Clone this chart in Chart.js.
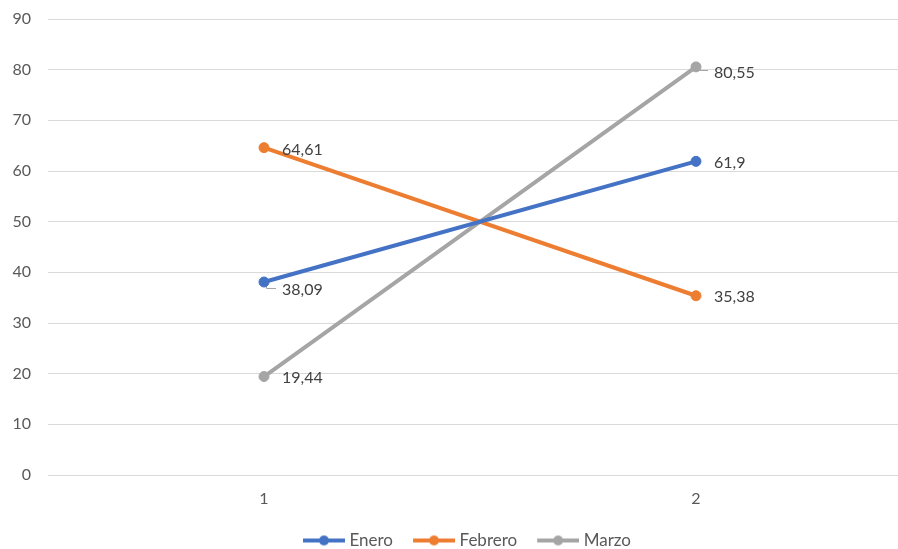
<!DOCTYPE html>
<html>
<head>
<meta charset="utf-8">
<script src="https://cdn.jsdelivr.net/npm/chart.js@4/dist/chart.umd.min.js"></script>
<style>
  html, body { margin: 0; padding: 0; background: #ffffff; overflow: hidden; }
  #wrap { position: relative; width: 918px; height: 549px; }
  canvas { display: block; }
</style>
</head>
<body>
<div id="wrap"><canvas id="chart" width="918" height="549" style="width:918px;height:549px"></canvas></div>
<script>
// Categories and monthly series
const categories = ['1', '2'];
const enero   = [38.09, 61.9];
const febrero = [64.61, 35.38];
const marzo   = [19.44, 80.55];
const seriesNames = ['Enero', 'Febrero', 'Marzo'];
const yMin = 0, yMax = 90, yStep = 10;

const colors = ['#4472C4', '#ED7D31', '#A5A5A5'];
const FONT = "Lato, 'Open Sans', 'Liberation Sans', sans-serif";

// label placement per point (vertical nudge in px, and whether a leader line is drawn)
const labelNudge = [[7, 1], [1, 0], [0, 5]];
const labelLeader = [[true, false], [false, false], [false, true]];

const fmt = v => String(v).replace('.', ',');

// legend swatch: short line with a centred marker
function swatch(color) {
  const c = document.createElement('canvas');
  c.width = 56; c.height = 12;
  const g = c.getContext('2d');
  g.strokeStyle = color; g.lineWidth = 4;
  g.beginPath(); g.moveTo(14, 6); g.lineTo(56, 6); g.stroke();
  g.fillStyle = color;
  g.beginPath(); g.arc(35, 6, 5, 0, Math.PI * 2); g.fill();
  return c;
}
const swatches = colors.map(swatch);

const valueLabels = {
  id: 'valueLabels',
  afterUpdate(chart) {
    // nudge the legend block to sit centred under the series and closer to the bottom edge
    const lg = chart.legend;
    if (!lg) return;
    lg.left += 4; lg.right += 4;
    lg.top += 10; lg.bottom += 10;
    lg.adjustHitBoxes();
  },
  beforeDatasetsDraw(chart) {
    const ctx = chart.ctx;
    ctx.save();
    ctx.strokeStyle = '#a6a6a6';
    ctx.lineWidth = 1;
    chart.data.datasets.forEach((ds, di) => {
      chart.getDatasetMeta(di).data.forEach((pt, i) => {
        if (!labelLeader[di][i]) return;
        const ly = Math.round(pt.y + labelNudge[di][i] - 1.5) + 0.5;
        ctx.beginPath();
        ctx.moveTo(Math.round(pt.x + 2) + 0.5, pt.y);
        ctx.lineTo(Math.round(pt.x + 2) + 0.5, ly);
        ctx.lineTo(pt.x + 12, ly);
        ctx.stroke();
      });
    });
    ctx.restore();
  },
  afterDatasetsDraw(chart) {
    const ctx = chart.ctx;
    ctx.save();
    ctx.font = '16px ' + FONT;
    ctx.fillStyle = '#404040';
    ctx.textAlign = 'left';
    ctx.textBaseline = 'alphabetic';
    chart.data.datasets.forEach((ds, di) => {
      chart.getDatasetMeta(di).data.forEach((pt, i) => {
        ctx.fillText(fmt(ds.data[i]), pt.x + 18, pt.y + labelNudge[di][i] + 6);
      });
    });
    ctx.restore();
  }
};

const seriesData = [enero, febrero, marzo];

new Chart(document.getElementById('chart'), {
  type: 'line',
  data: {
    labels: categories,
    datasets: seriesData.map((d, i) => ({
      label: seriesNames[i],
      data: d,
      borderColor: colors[i],
      backgroundColor: colors[i],
      pointBackgroundColor: colors[i],
      pointBorderColor: colors[i],
      borderWidth: 4,
      pointRadius: 5,
      pointBorderWidth: 1,
      tension: 0,
      borderCapStyle: 'round',
      fill: false
    }))
  },
  options: {
    responsive: false,
    animation: false,
    events: [],
    layout: { padding: { left: 0, right: 2, top: 19, bottom: 0 } },
    scales: {
      x: {
        offset: true,
        grid: { display: false, drawTicks: false },
        border: { display: false },
        ticks: { color: '#595959', font: { family: FONT, size: 16 }, padding: 14 },
        afterFit(scale) { scale.height = 37; scale.paddingLeft = 0; scale.paddingRight = 0; }
      },
      y: {
        min: yMin, max: yMax,
        grid: { color: '#d9d9d9', lineWidth: 1, drawTicks: false },
        border: { display: false },
        ticks: { stepSize: yStep, color: '#595959', font: { family: FONT, size: 16 }, padding: 17 },
        afterFit(scale) { scale.width = 48; scale.paddingTop = 0; scale.paddingBottom = 0; }
      }
    },
    plugins: {
      tooltip: { enabled: false },
      legend: {
        position: 'bottom',
        labels: {
          usePointStyle: true,
          pointStyleWidth: 48,
          padding: 10,
          color: '#595959',
          font: { family: FONT, size: 17 },
          generateLabels(chart) {
            const items = Chart.defaults.plugins.legend.labels.generateLabels(chart);
            items.forEach((it, i) => { it.pointStyle = swatches[i]; it.fontColor = '#595959'; });
            return items;
          }
        }
      }
    }
  },
  plugins: [valueLabels]
});
</script>
</body>
</html>
